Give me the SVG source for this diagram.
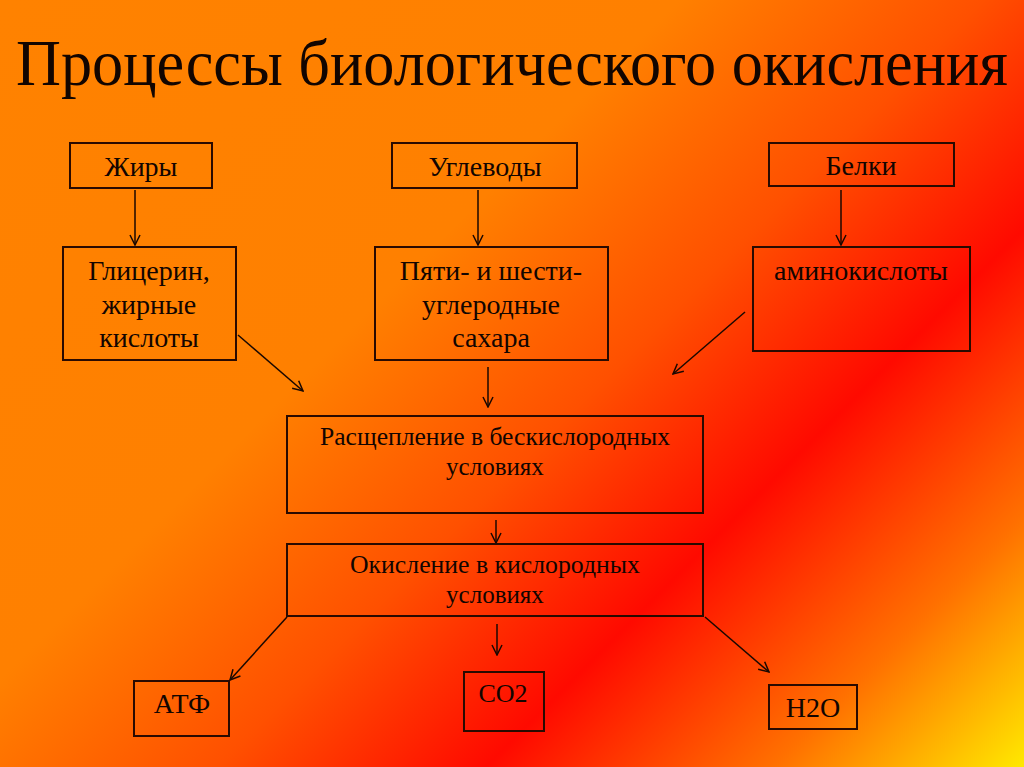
<svg xmlns="http://www.w3.org/2000/svg" width="1024" height="767" viewBox="0 0 1024 767">
<defs>
<linearGradient id="bg" gradientUnits="userSpaceOnUse" x1="0" y1="0" x2="895" y2="895">
<stop offset="0" stop-color="#FF8200"/>
<stop offset="0.38" stop-color="#FF8000"/>
<stop offset="0.55" stop-color="#FF5000"/>
<stop offset="0.70" stop-color="#FF0A00"/>
<stop offset="0.86" stop-color="#FF7000"/>
<stop offset="1" stop-color="#FFE800"/>
</linearGradient>
<marker id="ah" viewBox="0 0 12 12" refX="11" refY="6" markerWidth="12" markerHeight="12" markerUnits="userSpaceOnUse" orient="auto">
<path d="M1,1 L11,6 L1,11" fill="none" stroke="#1a0800" stroke-width="1.5"/>
</marker>
<style>
.box{fill:none;stroke:#2a0a00;stroke-width:2}
.t{font-family:"Liberation Serif","Times New Roman",serif;fill:#120500;text-anchor:middle}
.big{font-size:28px}
.mid{font-size:25px}
.con{stroke:#1a0800;stroke-width:1.5;fill:none;marker-end:url(#ah)}
</style>
</defs>
<rect x="0" y="0" width="1024" height="767" fill="url(#bg)"/>
<text class="t" transform="translate(512,85) scale(1,1.08)" x="0" y="0" font-size="60" textLength="992" lengthAdjust="spacingAndGlyphs">Процессы биологического окисления</text>

<g id="connectors">
<line class="con" x1="135" y1="190" x2="135" y2="245"/>
<line class="con" x1="478" y1="190" x2="478" y2="245"/>
<line class="con" x1="841" y1="190" x2="841" y2="245"/>
<line class="con" x1="238" y1="335" x2="303" y2="391"/>
<line class="con" x1="745" y1="312" x2="673" y2="374"/>
<line class="con" x1="488" y1="367" x2="488" y2="407"/>
<line class="con" x1="496" y1="520" x2="496" y2="543"/>
<line class="con" x1="287" y1="617" x2="230" y2="680"/>
<line class="con" x1="497" y1="624" x2="497" y2="655"/>
<line class="con" x1="705" y1="617" x2="769" y2="672"/>
</g>

<g id="zhiry">
<rect class="box" x="70" y="143" width="142" height="45"/>
<text class="t big" x="141" y="176">Жиры</text>
</g>
<g id="uglevody">
<rect class="box" x="392" y="143" width="185" height="45"/>
<text class="t big" x="485" y="176">Углеводы</text>
</g>
<g id="belki">
<rect class="box" x="769" y="143" width="185" height="43"/>
<text class="t big" x="861" y="175">Белки</text>
</g>
<g id="glicerin">
<rect class="box" x="63" y="247" width="173" height="113"/>
<text class="t big" x="149" y="280">Глицерин,</text>
<text class="t big" x="149" y="314">жирные</text>
<text class="t big" x="149" y="347">кислоты</text>
</g>
<g id="sahara">
<rect class="box" x="375" y="247" width="233" height="113"/>
<text class="t big" x="491" y="280">Пяти- и шести-</text>
<text class="t big" x="491" y="314">углеродные</text>
<text class="t big" x="491" y="347">сахара</text>
</g>
<g id="amino">
<rect class="box" x="753" y="247" width="217" height="104"/>
<text class="t big" x="861" y="280">аминокислоты</text>
</g>
<g id="rasshcheplenie">
<rect class="box" x="287" y="416" width="416" height="97"/>
<text class="t mid" x="495" y="445" textLength="350" lengthAdjust="spacingAndGlyphs">Расщепление в бескислородных</text>
<text class="t mid" x="495" y="475">условиях</text>
</g>
<g id="okislenie">
<rect class="box" x="287" y="544" width="416" height="72"/>
<text class="t mid" x="495" y="573" textLength="290" lengthAdjust="spacingAndGlyphs">Окисление в кислородных</text>
<text class="t mid" x="495" y="603">условиях</text>
</g>
<g id="atf">
<rect class="box" x="134" y="681" width="95" height="55"/>
<text class="t big" x="182" y="713">АТФ</text>
</g>
<g id="co2">
<rect class="box" x="464" y="672" width="80" height="59"/>
<text class="t" x="503" y="702" font-size="26">CO2</text>
</g>
<g id="h2o">
<rect class="box" x="769" y="685" width="88" height="44"/>
<text class="t big" x="813" y="717">H2O</text>
</g>
</svg>
